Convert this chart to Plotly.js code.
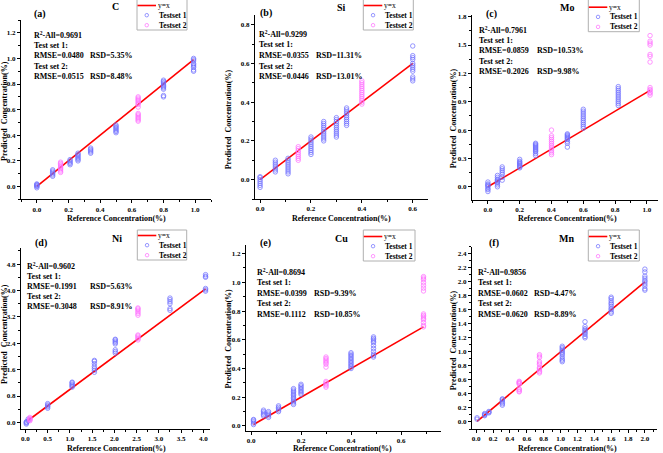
<!DOCTYPE html>
<html>
<head>
<meta charset="utf-8">
<script src="https://cdn.plot.ly/plotly-3.0.1.min.js"></script>
<style>html,body{margin:0;padding:0;background:#fff;}#chart{width:663px;height:453px;}</style>
</head>
<body>
<div id="chart"></div>
<script>
// ---------- DATA ----------
const elements = ['C', 'Si', 'Mo', 'Ni', 'Cu', 'Mn'];
const panelLabels = ['(a)', '(b)', '(c)', '(d)', '(e)', '(f)'];
const r2All = ['0.9691', '0.9299', '0.7961', '0.9602', '0.8694', '0.9856'];
const rmse1 = ['0.0480', '0.0355', '0.0859', '0.1991', '0.0399', '0.0602'];
const rsd1  = ['5.35%', '11.31%', '10.53%', '5.63%', '9.39%', '4.47%'];
const rmse2 = ['0.0515', '0.0446', '0.2026', '0.3048', '0.1112', '0.0620'];
const rsd2  = ['8.48%', '13.01%', '9.98%', '8.91%', '10.85%', '8.89%'];

// C
const C_ref1 = [0, 0.1, 0.21, 0.26, 0.34, 0.5, 0.8, 0.99];
const C_pred1 = [
  [-0.01, 0.0, 0.005, 0.01, 0.015, 0.02],
  [0.08, 0.09, 0.1, 0.11, 0.12, 0.13],
  [0.17, 0.18, 0.19, 0.2, 0.21],
  [0.2, 0.21, 0.22, 0.23, 0.24, 0.25, 0.26],
  [0.26, 0.27, 0.28, 0.29, 0.3],
  [0.42, 0.43, 0.44, 0.45, 0.46, 0.47, 0.48],
  [0.7, 0.71, 0.76, 0.77, 0.78, 0.79, 0.8, 0.81, 0.82, 0.83],
  [0.9, 0.91, 0.93, 0.94, 0.95, 0.96, 0.98, 0.99, 1.0]
];
const C_ref2 = [0.15, 0.64];
const C_pred2 = [
  [0.11, 0.12, 0.13, 0.14, 0.15, 0.16, 0.17, 0.18, 0.19],
  [0.51, 0.52, 0.53, 0.54, 0.55, 0.56, 0.57, 0.62, 0.64, 0.65, 0.66, 0.67, 0.68, 0.69, 0.7]
];
const C_line = [0, 0.99];

// Si
const Si_ref1 = [0, 0.06, 0.11, 0.2, 0.25, 0.3, 0.34, 0.6];
const Si_pred1 = [
  [-0.04, -0.03, -0.02, -0.01, 0.0, 0.01, 0.015],
  [0.04, 0.05, 0.06, 0.07, 0.08, 0.09, 0.1],
  [0.03, 0.04, 0.05, 0.06, 0.07, 0.08, 0.09, 0.1, 0.11],
  [0.13, 0.14, 0.15, 0.16, 0.17, 0.18, 0.19, 0.2, 0.21, 0.22],
  [0.2, 0.21, 0.22, 0.23, 0.24, 0.25, 0.26, 0.27, 0.28, 0.29, 0.3],
  [0.22, 0.23, 0.24, 0.25, 0.26, 0.27, 0.28, 0.29, 0.3, 0.31, 0.32],
  [0.28, 0.29, 0.3, 0.31, 0.32, 0.33, 0.34, 0.35, 0.36, 0.37],
  [0.51, 0.52, 0.53, 0.56, 0.57, 0.58, 0.59, 0.6, 0.62, 0.63, 0.64, 0.69]
];
const Si_ref2 = [0.15, 0.4];
const Si_pred2 = [
  [0.1, 0.11, 0.12, 0.13, 0.14, 0.15, 0.16, 0.17],
  [0.39, 0.4, 0.41, 0.42, 0.43, 0.44, 0.45, 0.46, 0.47, 0.48, 0.49, 0.5, 0.51]
];
const Si_line = [0, 0.6];

// Mo
const Mo_ref1 = [0, 0.06, 0.09, 0.2, 0.3, 0.5, 0.6, 0.82];
const Mo_pred1 = [
  [-0.05, -0.03, -0.02, 0.0, 0.01, 0.02, 0.03, 0.05],
  [0.0, 0.02, 0.04, 0.05, 0.06, 0.07, 0.08, 0.1, 0.12],
  [0.07, 0.1, 0.13, 0.15, 0.17, 0.19, 0.21],
  [0.2, 0.21, 0.22, 0.23, 0.24, 0.25, 0.26, 0.27, 0.29],
  [0.33, 0.35, 0.37, 0.38, 0.39, 0.4, 0.41, 0.42, 0.43, 0.44, 0.45, 0.46],
  [0.42, 0.46, 0.48, 0.5, 0.51, 0.52, 0.53, 0.54, 0.55, 0.56],
  [0.62, 0.64, 0.66, 0.68, 0.7, 0.72, 0.74, 0.76, 0.78, 0.8, 0.82],
  [0.86, 0.88, 0.9, 0.92, 0.94, 0.96, 0.98, 1.0, 1.02, 1.04, 1.06]
];
const Mo_ref2 = [0.4, 1.02];
const Mo_pred2 = [
  [0.34, 0.36, 0.38, 0.4, 0.42, 0.44, 0.46, 0.48, 0.5, 0.52, 0.54, 0.6],
  [0.97, 0.99, 1.0, 1.02, 1.03, 1.05, 1.32, 1.38, 1.4, 1.5, 1.52, 1.54, 1.6]
];
const Mo_line = [0, 1.02];

// Ni
const Ni_ref1 = [0.02, 0.06, 0.5, 1.05, 1.55, 2.02, 3.25, 4.05];
const Ni_pred1 = [
  [-0.05, -0.02, 0.0, 0.02],
  [0.05, 0.1],
  [0.43, 0.47, 0.5, 0.53, 0.57],
  [1.07, 1.1, 1.13, 1.16, 1.2, 1.22],
  [1.52, 1.58, 1.64, 1.7, 1.78, 1.85, 1.88],
  [2.1, 2.15, 2.2, 2.38, 2.42, 2.46, 2.5, 2.52],
  [3.4, 3.45, 3.6, 3.66, 3.72, 3.77],
  [3.98, 4.02, 4.06, 4.4, 4.43, 4.48]
];
const Ni_ref2 = [0.1, 2.53];
const Ni_pred2 = [
  [0.05, 0.08, 0.1, 0.12, 0.15],
  [2.5, 2.54, 2.58, 2.62, 2.65, 3.25, 3.3, 3.35, 3.4, 3.44, 3.47]
];
const Ni_line = [0.05, 4.05];

// Cu
const Cu_ref1 = [0.01, 0.05, 0.07, 0.11, 0.17, 0.2, 0.4, 0.49];
const Cu_pred1 = [
  [0.01, 0.02, 0.03, 0.04, 0.045],
  [0.07, 0.08, 0.09, 0.1, 0.11],
  [0.06, 0.07, 0.08, 0.09, 0.1],
  [0.1, 0.11, 0.12, 0.13, 0.14],
  [0.15, 0.16, 0.17, 0.18, 0.19, 0.2, 0.21, 0.22, 0.23, 0.24, 0.25, 0.26],
  [0.22, 0.23, 0.24, 0.25, 0.26, 0.27, 0.28, 0.29],
  [0.4, 0.41, 0.42, 0.43, 0.44, 0.45, 0.46, 0.47, 0.48, 0.49, 0.5, 0.51],
  [0.48, 0.49, 0.5, 0.52, 0.54, 0.56, 0.58, 0.59, 0.6, 0.61, 0.62]
];
const Cu_ref2 = [0.3, 0.69];
const Cu_pred2 = [
  [0.27, 0.28, 0.29, 0.3, 0.31, 0.41, 0.43, 0.44, 0.45, 0.46, 0.47, 0.48],
  [0.69, 0.7, 0.72, 0.74, 0.75, 0.76, 0.77, 0.78, 0.94, 0.96, 0.98, 1.0, 1.02, 1.03, 1.04]
];
const Cu_line = [0.01, 0.69];

// Mn
const Mn_ref1 = [0.01, 0.1, 0.15, 0.31, 1.02, 1.29, 1.6, 2.0];
const Mn_pred1 = [
  [0.04, 0.06],
  [0.09, 0.1, 0.11, 0.12],
  [0.13, 0.14, 0.15],
  [0.24, 0.26, 0.28, 0.3, 0.32, 0.33],
  [0.86, 0.88, 0.9, 0.93, 0.96, 0.98, 1.0, 1.02, 1.04, 1.06, 1.08],
  [1.2, 1.22, 1.25, 1.27, 1.29, 1.31, 1.33, 1.36, 1.43],
  [1.55, 1.57, 1.6, 1.62, 1.65, 1.68, 1.7, 1.73, 1.76, 1.78],
  [1.88, 1.9, 1.94, 1.97, 2.0, 2.02, 2.05, 2.08, 2.14, 2.18]
];
const Mn_ref2 = [0.51, 0.75];
const Mn_pred2 = [
  [0.43, 0.44, 0.46, 0.47, 0.54, 0.55, 0.56, 0.57, 0.58],
  [0.7, 0.72, 0.74, 0.76, 0.78, 0.82, 0.84, 0.86, 0.92, 0.94, 0.96]
];
const Mn_line = [0.01, 2.0];

const seriesData = [
  [C_ref1, C_pred1, C_ref2, C_pred2, C_line],
  [Si_ref1, Si_pred1, Si_ref2, Si_pred2, Si_line],
  [Mo_ref1, Mo_pred1, Mo_ref2, Mo_pred2, Mo_line],
  [Ni_ref1, Ni_pred1, Ni_ref2, Ni_pred2, Ni_line],
  [Cu_ref1, Cu_pred1, Cu_ref2, Cu_pred2, Cu_line],
  [Mn_ref1, Mn_pred1, Mn_ref2, Mn_pred2, Mn_line]
];

// ---------- LAYOUT GEOMETRY (pixels) ----------
const W = 663, H = 453;
const geom = [
  {ax:[21,211], ay:[199.3,20], xr:[-0.1,1.1], yr:[-0.1,1.3], xd:0.2, xm:0.1, yd:0.2, ym:0.1,
   lab:[40,14], el:[116,7], leg:[137,-2,187,30], st:[32.7,35,10.5], rsdX:89.3, yt:[4,111], xt:[116.7,218]},
  {ax:[255,428], ay:[199,15], xr:[-0.02,0.66], yr:[-0.1,0.85], xd:0.2, xm:0.1, yd:0.2, ym:0.1,
   lab:[265.7,13.3], el:[341.7,7.3], leg:[363.3,-2,413.3,30], st:[257.7,34.3,10.6], rsdX:315, yt:[228.3,119], xt:[341.7,218.3]},
  {ax:[472,658], ay:[200,14.8], xr:[-0.1,1.07], yr:[-0.14,1.82], xd:0.2, xm:0.1, yd:0.3, ym:0.15,
   lab:[491.7,14], el:[567.3,7.3], leg:[588.3,-2,639.3,31.7], st:[477.7,30,10.4], rsdX:535.7, yt:[453.3,118], xt:[567.5,218.3]},
  {ax:[21,210], ay:[429,247.6], xr:[-0.1,4.15], yr:[-0.2,5.3], xd:0.5, xm:0.25, yd:0.8, ym:0.4,
   lab:[41,243.3], el:[116.7,238.3], leg:[137.3,230,186.7,260], st:[26,266,10], rsdX:88.5, yt:[4,334], xt:[116.7,448.5]},
  {ax:[246,441], ay:[431,245], xr:[-0.02,0.76], yr:[-0.035,1.26], xd:0.2, xm:0.1, yd:0.2, ym:0.1,
   lab:[265.7,243.3], el:[341.7,238.3], leg:[363.3,230,415,261], st:[256,272.3,10.5], rsdX:313.3, yt:[228.3,338.3], xt:[342.3,448.5]},
  {ax:[472,656.7], ay:[429,246.7], xr:[-0.05,2.14], yr:[-0.1,2.5], xd:0.2, xm:0.1, yd:0.2, ym:0.1,
   lab:[494.3,243.3], el:[566.7,238.3], leg:[588.3,230,639.3,261], st:[476.7,272.3,10.5], rsdX:532.7, yt:[453.3,340], xt:[567.3,448.5]}
];

const FONT = 'Liberation Serif, Times New Roman, serif';
const BLUE = 'rgba(110,110,255,0.8)';
const PINK = 'rgba(255,110,255,0.8)';
const RED = '#ff0000';
const px = p => p / W;
const py = p => 1 - p / H;

function flatten(refs, preds) {
  const xs = [], ys = [];
  refs.forEach((r, i) => preds[i].forEach(v => { xs.push(r); ys.push(v); }));
  return {xs, ys};
}

const traces = [];
const layout = {
  width: W, height: H,
  margin: {l:0, r:0, t:0, b:0},
  paper_bgcolor: '#fff', plot_bgcolor: 'rgba(0,0,0,0)',
  showlegend: false,
  font: {family: FONT, color: '#000'},
  annotations: [], shapes: []
};

function ann(x, y, text, opts) {
  return Object.assign({xref:'paper', yref:'paper', x: px(x), y: py(y), text: text, showarrow: false,
    xanchor: 'center', yanchor: 'middle', borderpad: 0,
    font: {family: FONT, size: 8, color: '#000', weight: 'bold'}}, opts || {});
}

seriesData.forEach((sd, i) => {
  const g = geom[i];
  const n = i === 0 ? '' : String(i + 1);
  const xa = 'x' + n, ya = 'y' + n;
  const [ref1, pred1, ref2, pred2, line] = sd;
  const s1 = flatten(ref1, pred1), s2 = flatten(ref2, pred2);

  traces.push({x: line, y: line, xaxis: xa, yaxis: ya, mode: 'lines', type: 'scatter',
    line: {color: RED, width: 1.6}, name: 'y=x', hoverinfo: 'skip'});
  traces.push({x: s1.xs, y: s1.ys, xaxis: xa, yaxis: ya, mode: 'markers', type: 'scatter',
    marker: {symbol: 'circle-open', size: 4.5, color: BLUE, line: {width: 0.9, color: BLUE}}, name: 'Testset 1'});
  traces.push({x: s2.xs, y: s2.ys, xaxis: xa, yaxis: ya, mode: 'markers', type: 'scatter',
    marker: {symbol: 'circle-open', size: 4.5, color: PINK, line: {width: 0.9, color: PINK}}, name: 'Testset 2'});

  const common = {showline: true, linecolor: '#000', linewidth: 1, ticks: 'outside', ticklen: 3, tickwidth: 1,
    tickcolor: '#000', showgrid: false, zeroline: false, tickformat: '.1f', tick0: 0, fixedrange: true,
    tickfont: {family: FONT, size: 7, color: '#000', weight: 'bold'}};
  layout['xaxis' + n] = Object.assign({}, common, {
    domain: [px(g.ax[0]), px(g.ax[1])], range: g.xr, dtick: g.xd, anchor: ya,
    minor: {dtick: g.xm, ticks: 'outside', ticklen: 2, tickwidth: 1, tickcolor: '#000', showgrid: false}
  });
  layout['yaxis' + n] = Object.assign({}, common, {
    domain: [py(g.ay[0]), py(g.ay[1])], range: g.yr, dtick: g.yd, anchor: xa,
    minor: {dtick: g.ym, ticks: 'outside', ticklen: 2, tickwidth: 1, tickcolor: '#000', showgrid: false}
  });

  // panel label and element title
  layout.annotations.push(ann(g.lab[0], g.lab[1], panelLabels[i], {font: {family: FONT, size: 10, color: '#000', weight: 'bold'}}));
  layout.annotations.push(ann(g.el[0], g.el[1], elements[i], {font: {family: FONT, size: 10, color: '#000', weight: 'bold'}}));

  // stats text
  const y0 = g.st[1], dy = g.st[2];
  layout.annotations.push(ann(g.st[0], y0, 'R<sup>2</sup>-All=' + r2All[i], {xanchor: 'left'}));
  layout.annotations.push(ann(g.st[0], y0 + dy, 'Test set 1:', {xanchor: 'left'}));
  layout.annotations.push(ann(g.st[0], y0 + 2 * dy, 'RMSE=' + rmse1[i], {xanchor: 'left'}));
  layout.annotations.push(ann(g.rsdX, y0 + 2 * dy, 'RSD=' + rsd1[i], {xanchor: 'left'}));
  layout.annotations.push(ann(g.st[0], y0 + 3 * dy, 'Test set 2:', {xanchor: 'left'}));
  layout.annotations.push(ann(g.st[0], y0 + 4 * dy, 'RMSE=' + rmse2[i], {xanchor: 'left'}));
  layout.annotations.push(ann(g.rsdX, y0 + 4 * dy, 'RSD=' + rsd2[i], {xanchor: 'left'}));

  // axis titles
  layout.annotations.push(ann(g.yt[0], g.yt[1], 'Predicted\u00a0\u00a0Concentration(%)', {textangle: -90}));
  layout.annotations.push(ann(g.xt[0], g.xt[1], 'Reference Concentration(%)'));

  // legend box
  const [l, t, r, b] = g.leg;
  layout.shapes.push({type: 'rect', xref: 'paper', yref: 'paper', x0: px(l), x1: px(r), y0: py(b), y1: py(t),
    line: {color: '#b0b0b0', width: 1}, fillcolor: 'rgba(255,255,255,0)'});
  const r1 = b - 24.5, r2 = b - 14.8, r3 = b - 4.8;
  layout.shapes.push({type: 'line', xref: 'paper', yref: 'paper', x0: px(l + 0.5), x1: px(l + 19), y0: py(r1), y1: py(r1),
    line: {color: RED, width: 1.6}});
  [[r2, BLUE], [r3, PINK]].forEach(([ry, c]) => {
    layout.shapes.push({type: 'circle', xref: 'paper', yref: 'paper', x0: px(l + 8), x1: px(l + 11.5),
      y0: py(ry + 1.75), y1: py(ry - 1.75), line: {color: c, width: 0.9}});
  });
  layout.annotations.push(ann(l + 19.5, r1, 'y=x', {xanchor: 'left', font: {family: FONT, size: 7.5, color: '#000'}}));
  layout.annotations.push(ann(l + 20.5, r2, 'Testset 1', {xanchor: 'left', font: {family: FONT, size: 7.5, color: '#000', weight: 'bold'}}));
  layout.annotations.push(ann(l + 20.5, r3, 'Testset 2', {xanchor: 'left', font: {family: FONT, size: 7.5, color: '#000', weight: 'bold'}}));
});

Plotly.newPlot('chart', traces, layout, {staticPlot: true, displayModeBar: false});
</script>
</body>
</html>
